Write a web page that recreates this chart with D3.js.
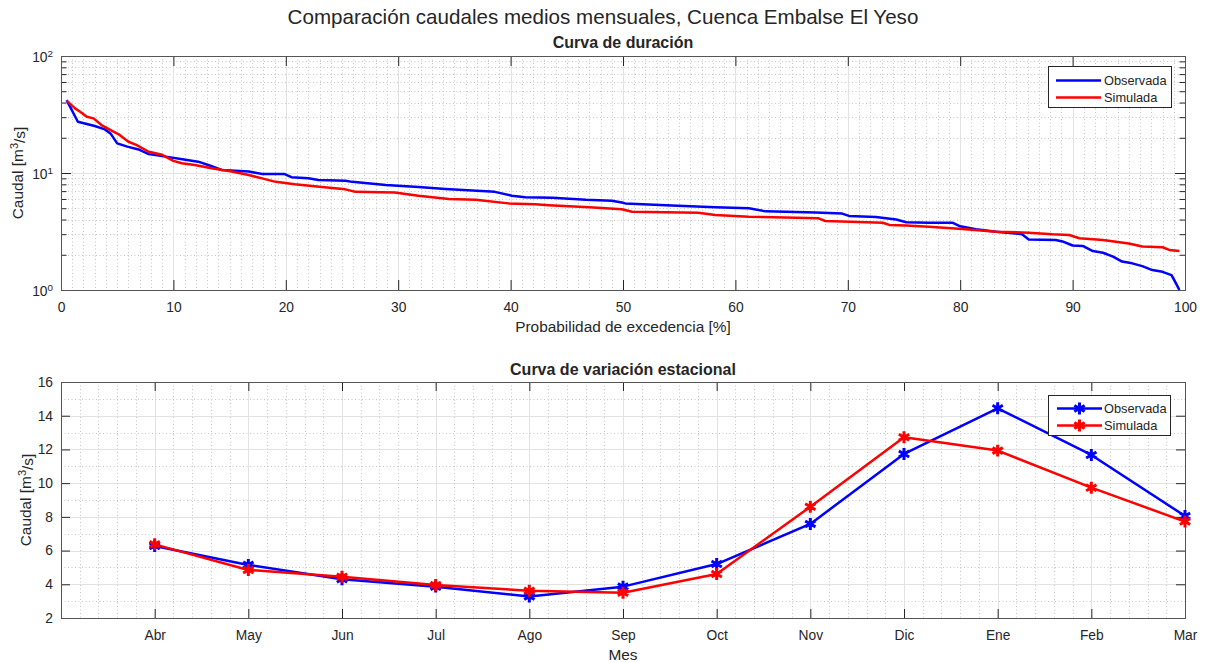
<!DOCTYPE html>
<html><head><meta charset="utf-8">
<script src="https://cdn.jsdelivr.net/npm/d3@7"></script>
<style>
body{margin:0;background:#fff}
svg text{font-family:"Liberation Sans",Arial,Helvetica,sans-serif;fill:#262626}
</style>
</head><body><svg id="c" width="1205" height="662"></svg>
<script>
// ---------- data ----------
const durObsP = [0.5,1.5,3.0,3.9,4.4,5.0,5.9,6.9,7.8,9.3,10.8,12.2,13.1,14.3,16.7,17.9,19.9,20.5,22.0,22.9,25.3,25.9,28.9,31.8,34.2,38.6,40.1,41.3,43.7,46.7,49.0,49.9,50.2,53.8,58.2,61.2,62.7,67.1,69.5,70.1,72.5,74.3,75.2,77.2,79.3,80.0,81.4,83.2,85.5,86.1,88.5,89.1,90.0,90.9,91.8,92.7,93.6,94.4,95.3,96.2,97.1,98.0,98.8,99.2,99.5];
const durObsQ = [42,27.4,25.2,23.6,21.8,17.9,16.8,15.9,14.5,13.8,13.1,12.5,11.7,10.6,10.3,9.8,9.8,9.2,9.0,8.7,8.6,8.4,7.9,7.6,7.3,6.9,6.4,6.2,6.15,5.9,5.8,5.6,5.5,5.3,5.1,5.0,4.7,4.6,4.5,4.3,4.2,4.0,3.8,3.76,3.76,3.5,3.3,3.15,3.0,2.7,2.68,2.6,2.4,2.38,2.15,2.08,1.93,1.75,1.69,1.6,1.48,1.43,1.34,1.14,1.0];
const durSimP = [0.5,1.25,1.7,2.3,2.9,3.6,4.5,5.1,6.0,6.7,7.8,9.0,10.0,10.75,11.9,13.4,15.2,16.7,17.9,19.1,20.8,23.2,25.3,26.2,29.7,31.8,34.5,36.9,39.8,42.2,43.4,47.0,49.9,50.8,56.7,58.2,61.2,67.4,68.0,73.1,73.7,75.2,77.2,80.2,83.2,86.1,88.2,89.7,90.6,92.7,95.0,96.2,98.0,98.6,99.5];
const durSimQ = [41.5,35.7,33.4,30.3,29.3,25.7,23.0,21.5,18.5,17.4,15.2,14.3,12.7,12.1,11.7,11.0,10.3,9.6,9.0,8.4,8.0,7.6,7.25,6.9,6.8,6.4,6.0,5.9,5.5,5.4,5.3,5.1,4.9,4.67,4.58,4.38,4.23,4.1,3.89,3.76,3.6,3.55,3.48,3.32,3.15,3.09,2.99,2.95,2.77,2.67,2.5,2.35,2.32,2.2,2.15];
const months = ["Abr","May","Jun","Jul","Ago","Sep","Oct","Nov","Dic","Ene","Feb","Mar"];
const seasonObs = [6.27,5.15,4.30,3.86,3.27,3.86,5.20,7.58,11.73,14.44,11.67,8.05];
const seasonSim = [6.37,4.85,4.45,3.96,3.62,3.50,4.61,8.60,12.72,11.93,9.73,7.72];
const durXTicks = [0,10,20,30,40,50,60,70,80,90,100];
const durYTicks = [1,10,100];
const seasonYTicks = [2,4,6,8,10,12,14,16];
const seriesNames = ["Observada","Simulada"];
const seriesColors = ["#0000ff","#ff0000"];

// ---------- setup ----------
const svg = d3.select("#c");
const AX = "#262626";
const TICKFS = 13.8, LABFS = 15.4;
const L = 61, R = 1185;
const top1 = 56, bot1 = 290, top2 = 382, bot2 = 618;

function grid(g, scale, vals, orient, a, b, cls){
  const sel = g.append("g").selectAll("line").data(vals).join("line");
  if(orient==="v"){
    sel.attr("x1",d=>Math.round(scale(d))+0.5).attr("x2",d=>Math.round(scale(d))+0.5).attr("y1",a).attr("y2",b);
  } else {
    sel.attr("y1",d=>Math.round(scale(d))+0.5).attr("y2",d=>Math.round(scale(d))+0.5).attr("x1",a).attr("x2",b);
  }
  if(cls==="major") sel.attr("stroke","#e2e2e2").attr("stroke-width",1);
  else sel.attr("stroke","#c4c4c4").attr("stroke-width",1).attr("stroke-dasharray","1,2.5");
}

function cleanAxis(g, fs){
  g.select(".domain").remove();
  g.selectAll(".tick line").attr("stroke",AX).attr("stroke-width",1);
  g.selectAll(".tick text").attr("fill",AX).style("font-size",fs+"px");
}

// ---------- top: duration curve ----------
const x1 = d3.scaleLinear().domain([0,100]).range([L,R]);
const y1 = d3.scaleLog().domain([1,100]).range([bot1,top1]);
const g1 = svg.append("g");

const xMinor1 = d3.range(0,101,1).filter(d=>d%10!==0);
const yMinor1 = [];
[1,10].forEach(b=>{for(let k=2;k<=9;k++) yMinor1.push(b*k);});
grid(g1,x1,xMinor1,"v",top1,bot1,"minor");
grid(g1,y1,yMinor1,"h",L,R,"minor");
grid(g1,x1,durXTicks,"v",top1,bot1,"major");
grid(g1,y1,durYTicks,"h",L,R,"major");

const xa1 = g1.append("g").attr("transform",`translate(0,${bot1})`)
  .call(d3.axisBottom(x1).tickValues(durXTicks).tickSize(-10).tickPadding(12).tickFormat(d3.format("d")));
cleanAxis(xa1,TICKFS);
const xa1t = g1.append("g").attr("transform",`translate(0,${top1})`)
  .call(d3.axisTop(x1).tickValues(durXTicks).tickSize(-10).tickFormat(""));
cleanAxis(xa1t,TICKFS);
const ya1 = g1.append("g").attr("transform",`translate(${L},0)`)
  .call(d3.axisLeft(y1).tickValues(durYTicks).tickSize(-10).tickPadding(8).tickFormat(""));
cleanAxis(ya1,TICKFS);
ya1.selectAll(".tick text").each(function(d){
  const t = d3.select(this).attr("dy","0.4em").attr("x",-8);
  t.append("tspan").text("10");
  t.append("tspan").attr("dy","-0.55em").style("font-size","9.8px").text(Math.round(Math.log10(d)));
});
const ya1m = g1.append("g").attr("transform",`translate(${L},0)`)
  .call(d3.axisLeft(y1).tickValues(yMinor1).tickSize(-5.5).tickFormat(""));
cleanAxis(ya1m,TICKFS);
const ya1r = g1.append("g").attr("transform",`translate(${R},0)`)
  .call(d3.axisRight(y1).tickValues(durYTicks).tickSize(-10).tickFormat(""));
cleanAxis(ya1r,TICKFS);
const ya1rm = g1.append("g").attr("transform",`translate(${R},0)`)
  .call(d3.axisRight(y1).tickValues(yMinor1).tickSize(-5.5).tickFormat(""));
cleanAxis(ya1rm,TICKFS);
g1.append("rect").attr("x",L+0.5).attr("y",top1+0.5).attr("width",R-L).attr("height",bot1-top1)
  .attr("fill","none").attr("stroke","#555").attr("stroke-width",1);

svg.append("clipPath").attr("id","clip1").append("rect")
  .attr("x",L).attr("y",top1).attr("width",R-L).attr("height",bot1-top1+1);
const line1 = d3.line().x(d=>x1(d[0])).y(d=>y1(d[1]));
const durSeries = [d3.zip(durObsP,durObsQ), d3.zip(durSimP,durSimQ)];
durSeries.forEach((s,i)=>{
  g1.append("path").datum(s).attr("d",line1).attr("fill","none")
    .attr("stroke",seriesColors[i]).attr("stroke-width",2.5).attr("stroke-linejoin","round")
    .attr("clip-path","url(#clip1)");
});

// legend top
const lg1 = g1.append("g");
lg1.append("rect").attr("x",1048.5).attr("y",66.5).attr("width",123).attr("height",41)
  .attr("fill","#fff").attr("stroke",AX).attr("stroke-width",1);
seriesNames.forEach((n,i)=>{
  const yy = 80.5 + i*17;
  lg1.append("line").attr("x1",1056).attr("x2",1101).attr("y1",yy).attr("y2",yy)
    .attr("stroke",seriesColors[i]).attr("stroke-width",2.5);
  lg1.append("text").attr("x",1104).attr("y",yy).attr("dy","0.35em").style("font-size","12.8px").text(n);
});

// labels
svg.append("text").attr("x",623).attr("y",327).attr("text-anchor","middle").attr("dy","0.35em")
  .style("font-size",LABFS+"px").text("Probabilidad de excedencia [%]");
function ylab(x,y){
  const t = svg.append("text").attr("transform",`translate(${x},${y}) rotate(-90)`)
    .attr("text-anchor","middle").attr("dy","0.35em").style("font-size",LABFS+"px");
  t.append("tspan").text("Caudal [m");
  t.append("tspan").attr("dy","-0.45em").style("font-size","11px").text("3");
  t.append("tspan").attr("dy","0.45em").text("/s]");
}
ylab(18,173);
ylab(26,500);

svg.append("text").attr("x",603).attr("y",17).attr("text-anchor","middle").attr("dy","0.35em")
  .style("font-size","20.6px").text("Comparación caudales medios mensuales, Cuenca Embalse El Yeso");
svg.append("text").attr("x",623).attr("y",42).attr("text-anchor","middle").attr("dy","0.35em")
  .style("font-size","16px").style("font-weight","bold").text("Curva de duración");
svg.append("text").attr("x",623).attr("y",369).attr("text-anchor","middle").attr("dy","0.35em")
  .style("font-size","16px").style("font-weight","bold").text("Curva de variación estacional");

// ---------- bottom: seasonal ----------
const x2 = d3.scaleLinear().domain([0,12]).range([L,R]);
const y2 = d3.scaleLinear().domain([2,16]).range([bot2,top2]);
const g2 = svg.append("g");
const monthIdx = months.map((m,i)=>i+1);
const xMinor2 = d3.range(1,60).map(k=>k*0.2).filter(d=>Math.abs(d-Math.round(d))>1e-6);
const yMinor2 = d3.range(3,16,2);
grid(g2,x2,xMinor2,"v",top2,bot2,"minor");
grid(g2,y2,yMinor2,"h",L,R,"minor");
grid(g2,x2,monthIdx,"v",top2,bot2,"major");
grid(g2,y2,seasonYTicks,"h",L,R,"major");

const xa2 = g2.append("g").attr("transform",`translate(0,${bot2})`)
  .call(d3.axisBottom(x2).tickValues(monthIdx).tickSize(-9).tickPadding(12).tickFormat(d=>months[d-1]));
cleanAxis(xa2,TICKFS);
const xa2t = g2.append("g").attr("transform",`translate(0,${top2})`)
  .call(d3.axisTop(x2).tickValues(monthIdx).tickSize(-9).tickFormat(""));
cleanAxis(xa2t,TICKFS);
const ya2 = g2.append("g").attr("transform",`translate(${L},0)`)
  .call(d3.axisLeft(y2).tickValues(seasonYTicks).tickSize(-9).tickPadding(8));
cleanAxis(ya2,TICKFS);
const ya2r = g2.append("g").attr("transform",`translate(${R},0)`)
  .call(d3.axisRight(y2).tickValues(seasonYTicks).tickSize(-9).tickFormat(""));
cleanAxis(ya2r,TICKFS);
g2.append("rect").attr("x",L+0.5).attr("y",top2+0.5).attr("width",R-L).attr("height",bot2-top2)
  .attr("fill","none").attr("stroke","#555").attr("stroke-width",1);

const line2 = d3.line().x(d=>x2(d[0])).y(d=>y2(d[1]));
const seasonSeries = [d3.zip(monthIdx,seasonObs), d3.zip(monthIdx,seasonSim)];
const marker = d3.symbol().type(d3.symbolAsterisk).size(100);
seasonSeries.forEach((s,i)=>{
  g2.append("path").datum(s).attr("d",line2).attr("fill","none")
    .attr("stroke",seriesColors[i]).attr("stroke-width",2.5).attr("stroke-linejoin","round");
  g2.append("g").selectAll("path").data(s).join("path")
    .attr("transform",d=>`translate(${x2(d[0])},${y2(d[1])})`)
    .attr("d",marker).attr("fill","none").attr("stroke",seriesColors[i]).attr("stroke-width",3);
});

// legend bottom
const lg2 = g2.append("g");
lg2.append("rect").attr("x",1048.5).attr("y",395.5).attr("width",122).attr("height",40)
  .attr("fill","#fff").attr("stroke",AX).attr("stroke-width",1);
seriesNames.forEach((n,i)=>{
  const yy = 408.5 + i*17;
  lg2.append("line").attr("x1",1057).attr("x2",1102).attr("y1",yy).attr("y2",yy)
    .attr("stroke",seriesColors[i]).attr("stroke-width",2.5);
  lg2.append("path").attr("transform",`translate(1079.5,${yy})`).attr("d",marker)
    .attr("fill","none").attr("stroke",seriesColors[i]).attr("stroke-width",3);
  lg2.append("text").attr("x",1104).attr("y",yy).attr("dy","0.35em").style("font-size","12.8px").text(n);
});

svg.append("text").attr("x",623).attr("y",655).attr("text-anchor","middle").attr("dy","0.35em")
  .style("font-size",LABFS+"px").text("Mes");
</script>
</body></html>
